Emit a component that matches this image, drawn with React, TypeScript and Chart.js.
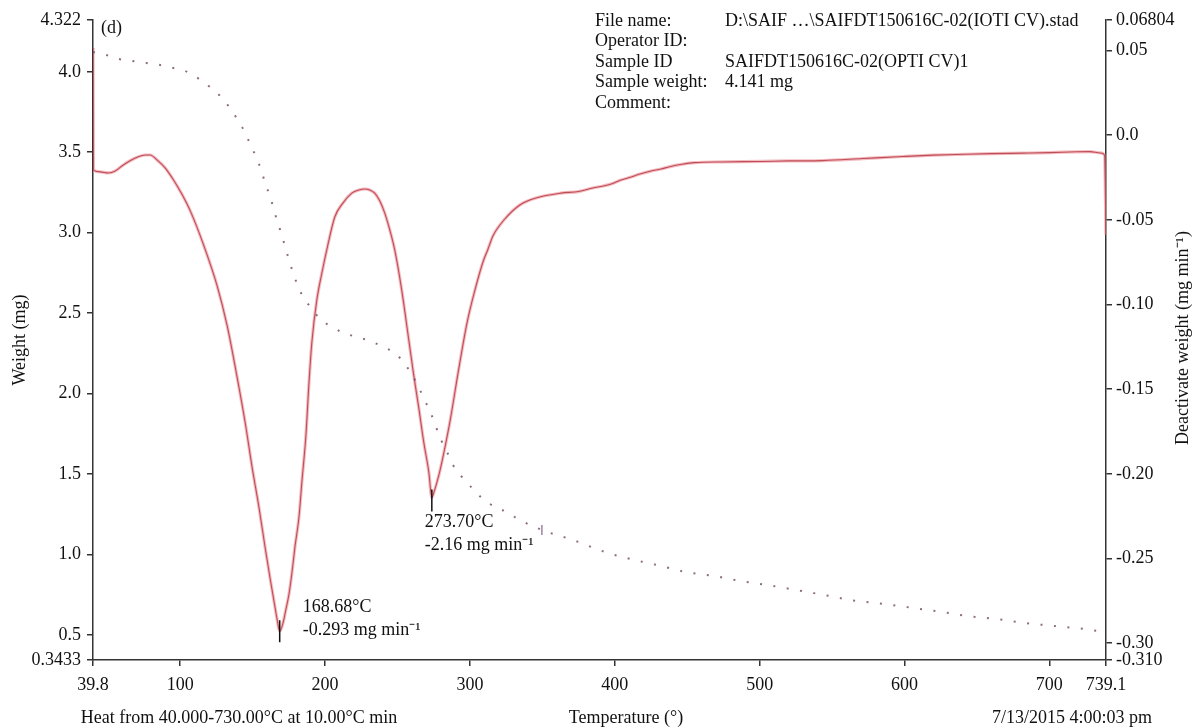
import React, { useEffect, useRef } from "react";
import { Chart, registerables } from "chart.js";

Chart.register(...registerables);

const FONT = "'Liberation Serif', 'Times New Roman', serif";

// DTG (derivative weight) curve, right axis, mg/min
const dtgTemps = [39.8, 40.1, 44.8, 50.4, 55.2, 60.7, 69.0, 75.9, 79.3, 84.1, 89.7, 95.2, 101.4, 107.1, 116.0, 125.5, 132.4, 139.3, 144.9, 149.7, 154.5, 158.7, 162.1, 164.9, 166.9, 168.68, 171.0, 173.0, 175.1, 177.2, 179.2, 182.0, 184.0, 186.8, 188.8, 190.9, 194.3, 197.8, 201.9, 206.7, 212.3, 218.5, 223.3, 227.5, 230.9, 234.3, 237.8, 241.2, 244.7, 248.1, 252.9, 257.8, 261.2, 264.7, 268.1, 271.6, 273.7, 275.2, 277.3, 279.4, 282.8, 286.3, 291.8, 298.0, 303.5, 309.0, 312.5, 315.9, 323.5, 334.5, 345.6, 362.8, 375.0, 384.9, 392.0, 398.0, 404.2, 410.0, 418.0, 425.0, 431.8, 438.0, 446.3, 455.0, 473.9, 501.5, 520.0, 543.6, 571.2, 598.8, 620.0, 640.8, 660.0, 682.2, 700.0, 718.8, 728.0, 735.3, 738.1, 739.1];
const dtgValues = [0.0515, -0.0206, -0.0217, -0.0223, -0.0211, -0.0176, -0.0135, -0.0117, -0.0117, -0.0147, -0.0194, -0.0262, -0.0352, -0.0450, -0.0645, -0.0890, -0.1125, -0.1430, -0.1700, -0.1965, -0.2205, -0.2440, -0.2620, -0.2760, -0.2860, -0.2930, -0.2880, -0.2800, -0.2710, -0.2580, -0.2432, -0.2255, -0.2048, -0.1771, -0.1476, -0.1222, -0.0974, -0.0814, -0.0649, -0.0483, -0.0401, -0.0342, -0.0324, -0.0318, -0.0324, -0.0342, -0.0389, -0.0460, -0.0560, -0.0678, -0.0914, -0.1210, -0.1417, -0.1611, -0.1812, -0.1989, -0.2140, -0.2108, -0.2048, -0.1978, -0.1842, -0.1688, -0.1405, -0.1109, -0.0914, -0.0749, -0.0672, -0.0595, -0.0501, -0.0412, -0.0371, -0.0342, -0.0333, -0.0312, -0.0300, -0.0287, -0.0265, -0.0250, -0.0228, -0.0212, -0.0200, -0.0186, -0.0172, -0.0162, -0.0158, -0.0155, -0.0152, -0.0150, -0.0138, -0.0126, -0.0118, -0.0113, -0.0109, -0.0106, -0.0103, -0.0098, -0.0097, -0.0105, -0.0117, -0.0589];

// Weight (TG) curve, left axis, mg
const weightTemps = [39.8, 49.0, 57.3, 66.9, 76.6, 86.2, 95.2, 104.9, 113.1, 120.7, 128.3, 133.8, 139.3, 144.2, 148.3, 152.4, 155.9, 158.6, 162.1, 165.5, 169.0, 171.7, 174.5, 177.3, 180.7, 184.9, 190.4, 196.6, 204.9, 213.1, 222.1, 231.1, 240.1, 248.3, 254.5, 260.1, 264.9, 269.0, 273.2, 276.6, 280.1, 284.2, 288.3, 294.5, 301.4, 308.3, 317.3, 325.5, 333.1, 349.7, 360.0, 369.0, 395.2, 413.8, 431.8, 449.0, 468.3, 486.9, 504.9, 524.8, 544.8, 562.8, 585.6, 605.6, 625.6, 643.5, 663.3, 683.3, 703.3, 724.0, 733.6];
const weightValues = [4.123, 4.104, 4.080, 4.067, 4.055, 4.042, 4.024, 3.999, 3.955, 3.905, 3.843, 3.781, 3.707, 3.632, 3.551, 3.470, 3.390, 3.309, 3.222, 3.116, 3.017, 2.936, 2.849, 2.768, 2.681, 2.600, 2.532, 2.463, 2.413, 2.376, 2.351, 2.327, 2.289, 2.252, 2.190, 2.115, 2.034, 1.954, 1.873, 1.792, 1.711, 1.636, 1.556, 1.481, 1.413, 1.350, 1.295, 1.263, 1.220, 1.152, 1.120, 1.096, 1.009, 0.965, 0.928, 0.890, 0.866, 0.834, 0.810, 0.779, 0.747, 0.716, 0.692, 0.667, 0.642, 0.617, 0.598, 0.573, 0.555, 0.536, 0.523];

const xTicks = [39.8, 100, 200, 300, 400, 500, 600, 700, 739.1];
const xTickLabels = ["39.8", "100", "200", "300", "400", "500", "600", "700", "739.1"];
const leftTicks = [0.3433, 0.5, 1.0, 1.5, 2.0, 2.5, 3.0, 3.5, 4.0, 4.322];
const leftTickLabels = ["0.3433", "0.5", "1.0", "1.5", "2.0", "2.5", "3.0", "3.5", "4.0", "4.322"];
const rightTicks = [-0.31, -0.3, -0.25, -0.2, -0.15, -0.1, -0.05, 0.0, 0.05, 0.06804];
const rightTickLabels = ["-0.310", "-0.30", "-0.25", "-0.20", "-0.15", "-0.10", "-0.05", "0.0", "0.05", "0.06804"];

const infoLabels = ["File name:", "Operator ID:", "Sample ID", "Sample weight:", "Comment:"];
const infoValues = ["D:\\SAIF …\\SAIFDT150616C-02(IOTI CV).stad", "", "SAIFDT150616C-02(OPTI CV)1", "4.141 mg", ""];

const peakTemps = [168.68, 273.7];
const peakValues = [-0.293, -0.214];
const peakTempLabels = ["168.68°C", "273.70°C"];
const peakRateLabels = ["-0.293 mg min⁻¹", "-2.16 mg min⁻¹"];
const tgMarkTemp = 349.7;
const tgMarkWeight = 1.152;

const panelLabel = "(d)";
const leftTitle = "Weight (mg)";
const rightTitle = "Deactivate weight (mg min⁻¹)";
const footLeft = "Heat from 40.000-730.00°C at 10.00°C min";
const footCenter = "Temperature (°)";
const footRight = "7/13/2015 4:00:03 pm";

const labelFor = (ticks: number[], labels: string[]) => (v: number) => {
  let best = 0;
  for (let i = 0; i < ticks.length; i++) {
    if (Math.abs(ticks[i] - v) < Math.abs(ticks[best] - v)) best = i;
  }
  return labels[best];
};

const textPlugin = {
  id: "textPlugin",
  afterDraw(chart: any) {
    const ctx = chart.ctx as CanvasRenderingContext2D;
    const xs = chart.scales.x;
    const yR = chart.scales.yR;
    const yL = chart.scales.y;
    ctx.save();
    ctx.fillStyle = "#111";
    ctx.font = `18px ${FONT}`;
    ctx.textBaseline = "middle";
    ctx.textAlign = "left";

    infoLabels.forEach((t, i) => {
      const y = 21 + i * 20.5;
      ctx.fillText(t, 595, y);
      if (infoValues[i]) ctx.fillText(infoValues[i], 725, y);
    });

    ctx.fillText(panelLabel, 101, 28);

    peakTemps.forEach((t, i) => {
      const px = xs.getPixelForValue(t);
      const py = yR.getPixelForValue(peakValues[i]);
      ctx.strokeStyle = "#111";
      ctx.lineWidth = 1.5;
      ctx.beginPath();
      if (i === 0) {
        ctx.moveTo(px, py - 11);
        ctx.lineTo(px, py + 11);
      } else {
        ctx.moveTo(px, py - 8);
        ctx.lineTo(px, py + 14);
      }
      ctx.stroke();
      ctx.textAlign = "left";
      if (i === 0) {
        ctx.fillText(peakTempLabels[i], px + 23, py - 24);
        ctx.fillText(peakRateLabels[i], px + 23, py - 1);
      } else {
        ctx.fillText(peakTempLabels[i], px - 7, py + 25);
        ctx.fillText(peakRateLabels[i], px - 7, py + 48);
      }
    });

    {
      const mx = xs.getPixelForValue(tgMarkTemp);
      const my = yL.getPixelForValue(tgMarkWeight);
      ctx.strokeStyle = "rgba(120,80,130,0.9)";
      ctx.lineWidth = 1.2;
      ctx.beginPath();
      ctx.moveTo(mx, my - 5);
      ctx.lineTo(mx, my + 5);
      ctx.stroke();
    }

    ctx.fillStyle = "#111";
    ctx.textAlign = "center";
    ctx.fillText(footLeft, 239, 718);
    ctx.fillText(footCenter, 626, 718);
    ctx.textAlign = "right";
    ctx.fillText(footRight, 1152, 718);

    ctx.textAlign = "center";
    ctx.save();
    ctx.translate(20, 340);
    ctx.rotate(-Math.PI / 2);
    ctx.fillText(leftTitle, 0, 0);
    ctx.restore();
    ctx.save();
    ctx.translate(1183, 338);
    ctx.rotate(-Math.PI / 2);
    ctx.fillText(rightTitle, 0, 0);
    ctx.restore();

    ctx.restore();
  },
};

export default function App() {
  const canvasRef = useRef<HTMLCanvasElement | null>(null);

  useEffect(() => {
    const canvas = canvasRef.current;
    if (!canvas) return;
    const axisColor = "#333";
    const tickFont = { family: FONT, size: 18 };
    const gridCfg = {
      display: true,
      drawOnChartArea: false,
      drawTicks: true,
      tickLength: 6,
      color: axisColor,
      lineWidth: 1.5,
    };
    const borderCfg = { display: true, color: axisColor, width: 1.5 };

    const weightData = weightTemps.map((t, i) => ({ x: t, y: weightValues[i] }));
    const dtgData = dtgTemps.map((t, i) => ({ x: t, y: dtgValues[i] }));

    const chart = new Chart(canvas, {
      type: "line",
      data: {
        datasets: [
          {
            label: "Weight",
            data: weightData,
            yAxisID: "y",
            borderColor: "rgba(120,85,105,0.85)",
            borderWidth: 2,
            borderDash: [2, 11.5],
            pointRadius: 0,
            cubicInterpolationMode: "monotone",
          },
          {
            label: "DTG halo",
            data: dtgData,
            yAxisID: "yR",
            borderColor: "rgba(232,120,130,0.5)",
            borderWidth: 3.2,
            pointRadius: 0,
            cubicInterpolationMode: "monotone",
          },
          {
            label: "DTG",
            data: dtgData,
            yAxisID: "yR",
            borderColor: "rgb(150,35,45)",
            borderWidth: 1.1,
            pointRadius: 0,
            cubicInterpolationMode: "monotone",
          },
        ],
      },
      options: {
        responsive: false,
        animation: false,
        events: [],
        layout: { padding: { top: 20, left: 0, right: 0, bottom: 0 } },
        plugins: { legend: { display: false }, tooltip: { enabled: false } },
        scales: {
          x: {
            type: "linear",
            min: 39.8,
            max: 739.1,
            afterBuildTicks: (s: any) => {
              s.ticks = xTicks.map((v) => ({ value: v }));
            },
            afterFit: (s: any) => {
              s.height = 68;
            },
            ticks: {
              autoSkip: false,
              maxRotation: 0,
              padding: 8,
              color: "#111",
              font: tickFont,
              callback: (v: any) => labelFor(xTicks, xTickLabels)(Number(v)),
            },
            grid: gridCfg,
            border: borderCfg,
          },
          y: {
            type: "linear",
            position: "left",
            min: 0.3433,
            max: 4.322,
            afterBuildTicks: (s: any) => {
              s.ticks = leftTicks.map((v) => ({ value: v }));
            },
            afterFit: (s: any) => {
              s.width = 93;
            },
            ticks: {
              autoSkip: false,
              padding: 6,
              color: "#111",
              font: tickFont,
              callback: (v: any) => labelFor(leftTicks, leftTickLabels)(Number(v)),
            },
            grid: gridCfg,
            border: borderCfg,
          },
          yR: {
            type: "linear",
            position: "right",
            min: -0.31,
            max: 0.06804,
            afterBuildTicks: (s: any) => {
              s.ticks = rightTicks.map((v) => ({ value: v }));
            },
            afterFit: (s: any) => {
              s.width = 87;
            },
            ticks: {
              autoSkip: false,
              padding: 4,
              color: "#111",
              font: tickFont,
              callback: (v: any) => labelFor(rightTicks, rightTickLabels)(Number(v)),
            },
            grid: gridCfg,
            border: borderCfg,
          },
        },
      },
      plugins: [textPlugin],
    } as any);

    return () => {
      chart.destroy();
    };
  }, []);

  return (
    <div style={{ position: "absolute", left: 0, top: 0, width: 1193, height: 728, background: "#fff" }}>
      <canvas ref={canvasRef} width={1193} height={728} style={{ display: "block" }} />
    </div>
  );
}
